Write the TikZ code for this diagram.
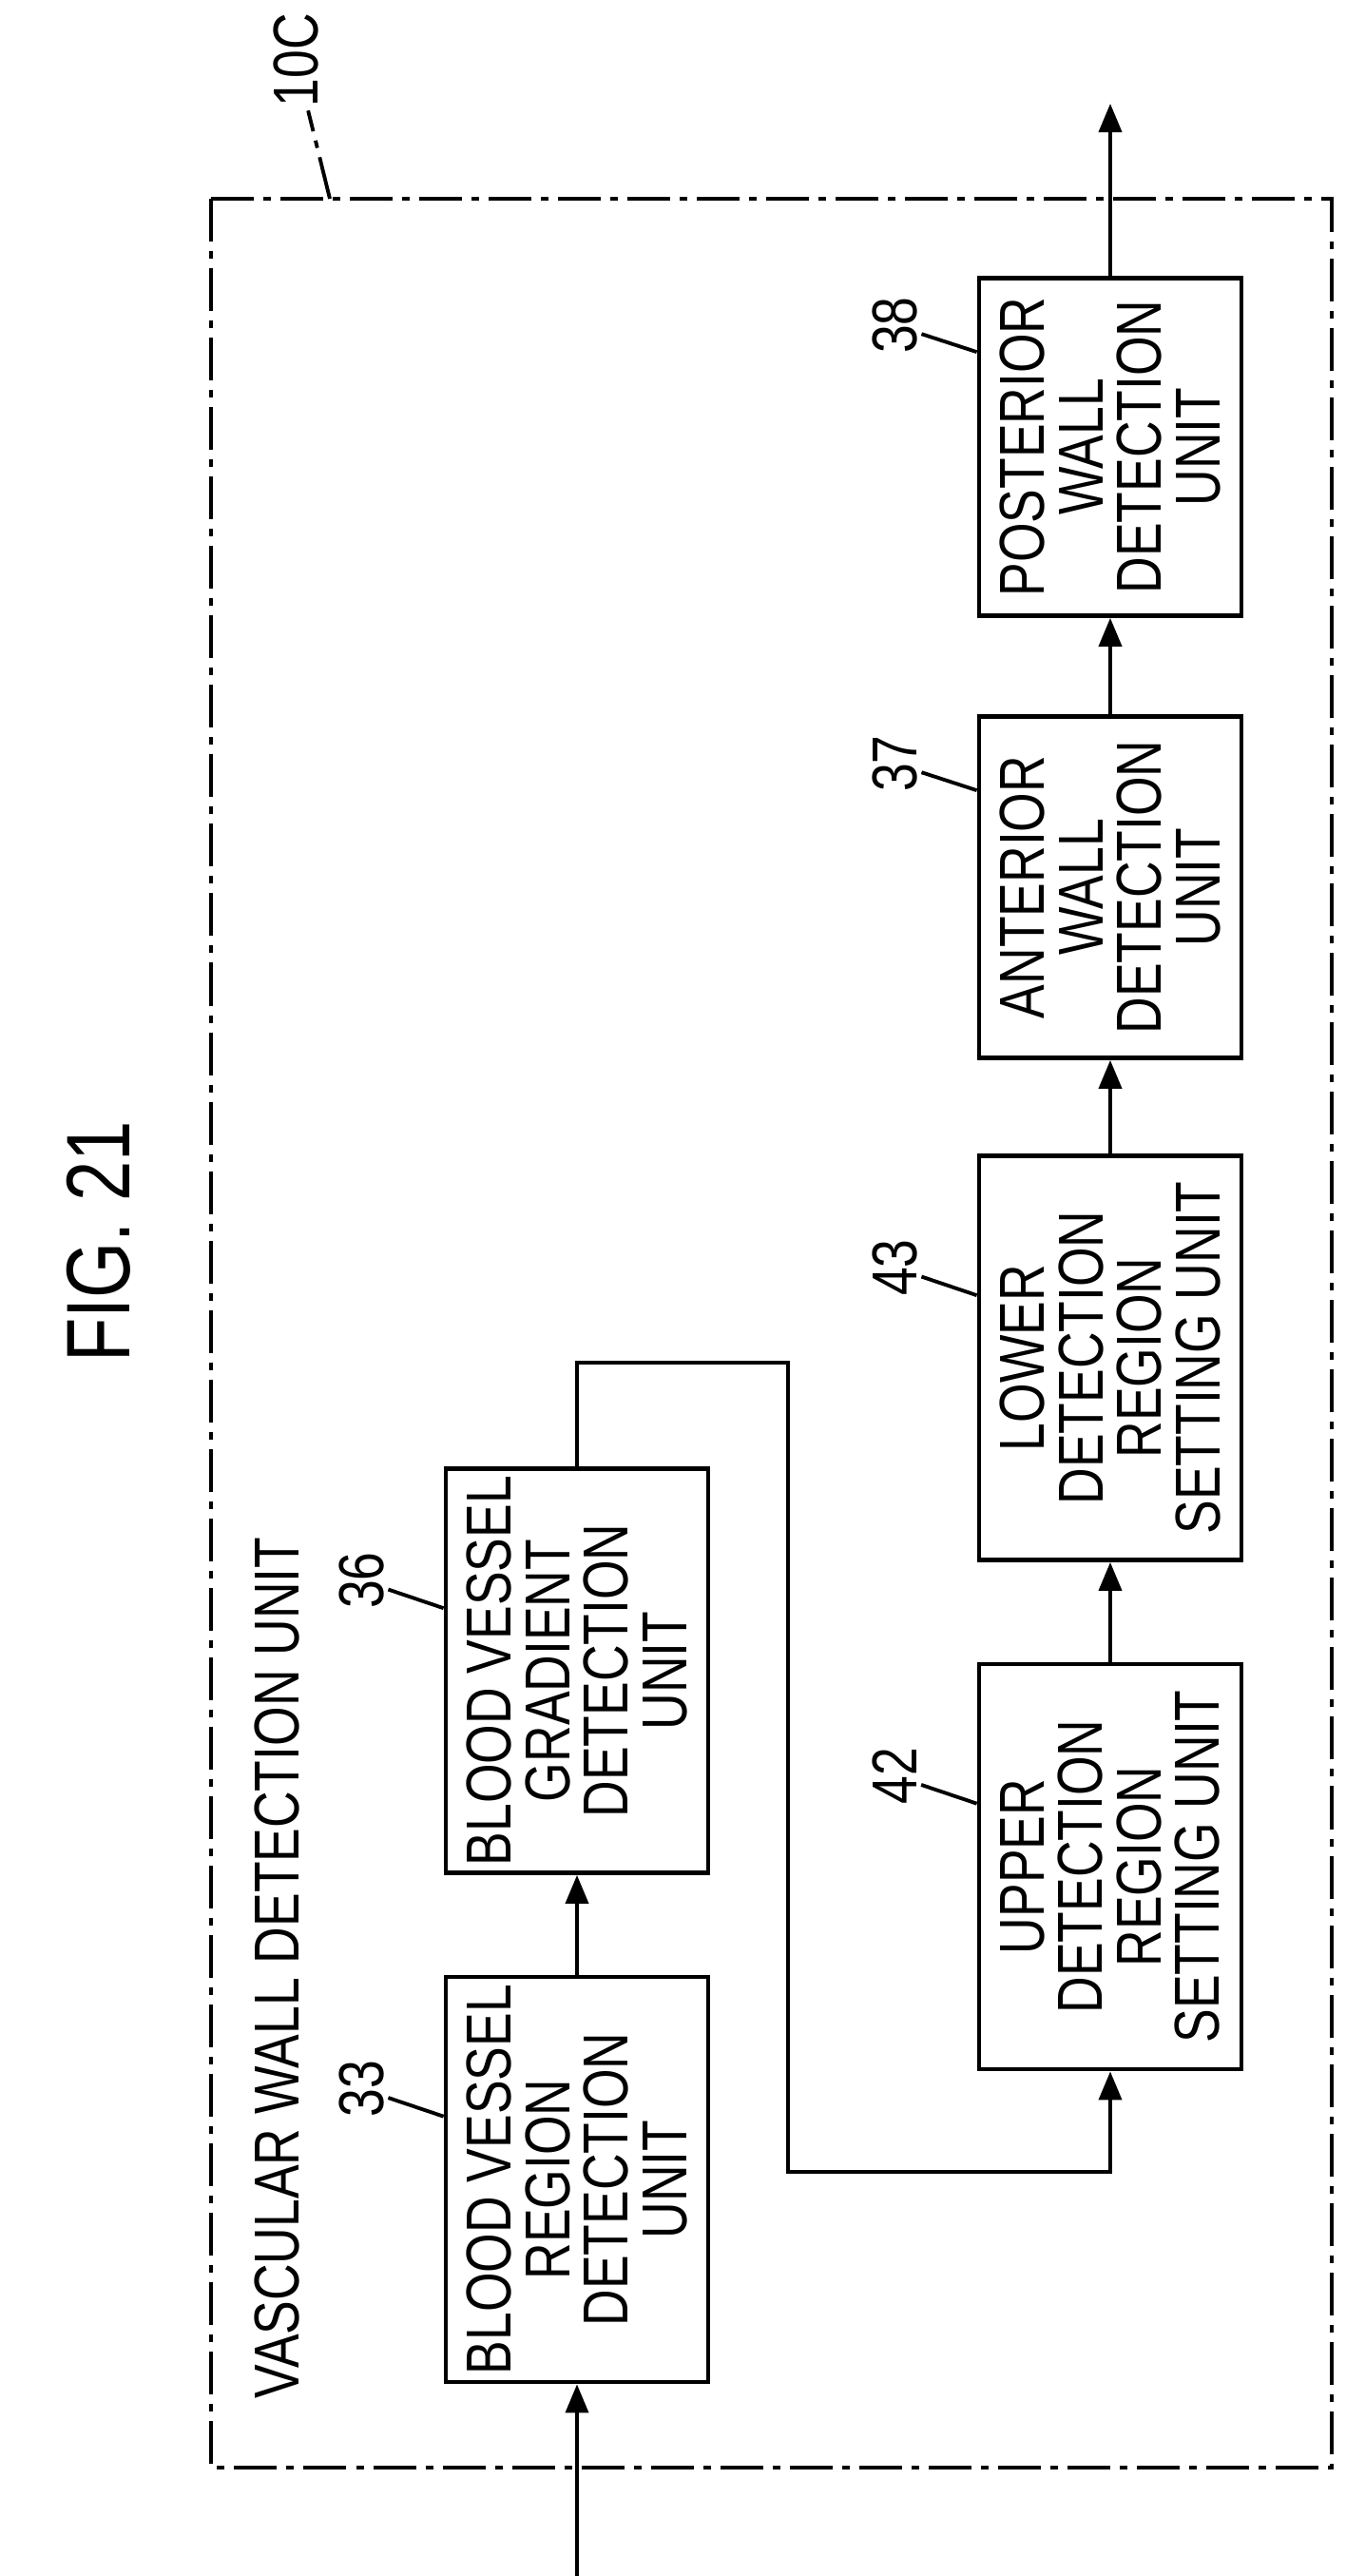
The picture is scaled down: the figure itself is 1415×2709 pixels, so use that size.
\documentclass[tikz,border=0pt]{standalone}
\usepackage{fontspec}
\setmainfont{Liberation Sans}[FakeStretch=0.8]
\usetikzlibrary{arrows.meta,positioning}
\tikzset{
  unit/.style={draw, line width=1.3pt, rotate=90, align=center, inner sep=2pt,
    font=\fontsize{19}{17.5}\selectfont, minimum height=2.76cm},
  num/.style={rotate=90, inner sep=1pt, font=\fontsize{19}{19}\selectfont},
  flow/.style={line width=1.1pt, -{Triangle[length=0.3cm,width=0.24cm]}},
  dashdot/.style={line width=1.1pt, dash pattern=on 0.45cm off 0.1cm on 0.08cm off 0.1cm}
}
\begin{document}
\begin{tikzpicture}[x=0.01cm,y=-0.01cm]
  \useasboundingbox (0,0) rectangle (1415,2709);

  % frame 10C
  \draw[dashdot] (222,209) rectangle (1401,2595);
  \coordinate (c10) at (347,209);
  \node[num] (n10c) at (311,63) {10C};
  \draw[dashdot] (c10) -- (n10c);
  \node[rotate=90, anchor=west, font=\fontsize{19}{19}\selectfont] (title) at (291,2535) {VASCULAR WALL DETECTION UNIT};
  \node[rotate=90, font=\fontsize{27}{27}\selectfont] (fig) at (104,1306) {FIG. 21};

  % units
  \node[unit, minimum width=4.26cm] (b33) at (607,2292) {BLOOD VESSEL\\REGION\\DETECTION\\UNIT};
  \node[unit, minimum width=4.25cm] (b36) at (607,1757) {BLOOD VESSEL\\GRADIENT\\DETECTION\\UNIT};
  \node[unit, minimum width=4.26cm] (b42) at (1168,1963) {UPPER\\DETECTION\\REGION\\SETTING UNIT};
  \node[unit, minimum width=4.25cm] (b43) at (1168,1428) {LOWER\\DETECTION\\REGION\\SETTING UNIT};
  \node[unit, minimum width=3.59cm] (b37) at (1168,933) {ANTERIOR\\WALL\\DETECTION\\UNIT};
  \node[unit, minimum width=3.55cm] (b38) at (1168,470) {POSTERIOR\\WALL\\DETECTION\\UNIT};

  % reference numerals
  \node[num] (n33) at ([xshift=-0.86cm,yshift=-1.2cm]b33.north east) {33};
  \node[num] (n36) at ([xshift=-0.86cm,yshift=-1.2cm]b36.north east) {36};
  \node[num] (n42) at ([xshift=-0.86cm,yshift=-1.2cm]b42.north east) {42};
  \node[num] (n43) at ([xshift=-0.86cm,yshift=-1.2cm]b43.north east) {43};
  \node[num] (n37) at ([xshift=-0.86cm,yshift=-0.52cm]b37.north east) {37};
  \node[num] (n38) at ([xshift=-0.86cm,yshift=-0.52cm]b38.north east) {38};
  \draw[line width=1.1pt] (n33) -- ([yshift=-1.49cm]b33.north east);
  \draw[line width=1.1pt] (n36) -- ([yshift=-1.49cm]b36.north east);
  \draw[line width=1.1pt] (n42) -- ([yshift=-1.49cm]b42.north east);
  \draw[line width=1.1pt] (n43) -- ([yshift=-1.49cm]b43.north east);
  \draw[line width=1.1pt] (n37) -- ([yshift=-0.8cm]b37.north east);
  \draw[line width=1.1pt] (n38) -- ([yshift=-0.8cm]b38.north east);

  % signal flow
  \coordinate (in) at (607,2709);
  \coordinate (out) at (1168,109);
  \draw[flow] (in) -- (b33.west);
  \draw[flow] (b33.east) -- (b36.west);
  \draw[flow] (b36.east) |- (829,1433) |- (1168,2284) -- (b42.west);
  \draw[flow] (b42.east) -- (b43.west);
  \draw[flow] (b43.east) -- (b37.west);
  \draw[flow] (b37.east) -- (b38.west);
  \draw[flow] (b38.east) -- (out);
\end{tikzpicture}
\end{document}
